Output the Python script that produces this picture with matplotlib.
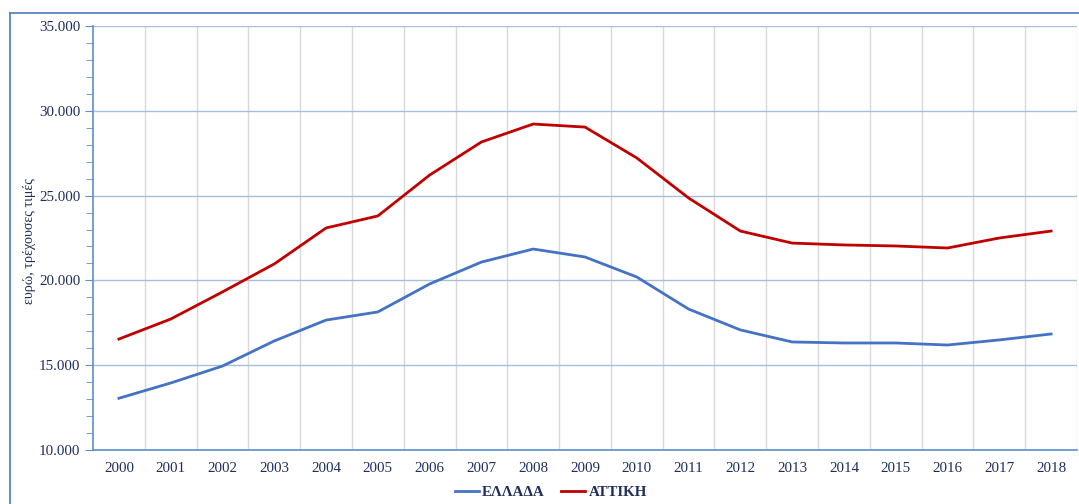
import matplotlib
matplotlib.use("Agg")
import matplotlib.pyplot as plt
from matplotlib.lines import Line2D
from matplotlib.ticker import MultipleLocator, FuncFormatter

years = [str(y) for y in range(2000, 2019)]
ellada = [13050, 13950, 14950, 16430, 17660, 18140, 19790, 21080, 21850, 21380,
          20200, 18310, 17080, 16370, 16310, 16310, 16190, 16490, 16840]
attiki = [16540, 17720, 19320, 20970, 23090, 23800, 26210, 28160, 29220, 29040,
          27220, 24860, 22910, 22200, 22090, 22030, 21910, 22500, 22910]
series_names = ["ΕΛΛΑΔΑ", "ΑΤΤΙΚΗ"]
ylabel = "ευρώ, τρέχουσες τιμές"

plt.rcParams['font.family'] = ['Liberation Serif', 'DejaVu Serif']
txt = '#1f2d5c'

fig = plt.figure(figsize=(10.79, 5.04), dpi=100)
ax = fig.add_axes([93/1079, 1-450/504, (1077-93)/1079, (450-26)/504])

x = list(range(len(years)))
ax.plot(x, ellada, color='#4472C4', lw=2.0, label=series_names[0])
ax.plot(x, attiki, color='#C00000', lw=2.0, label=series_names[1])

ax.set_xlim(-0.5, len(years)-0.5)
ax.set_ylim(10000, 35000)
ax.set_xticks(x)
ax.set_xticklabels(years)
ax.set_xticks([i+0.5 for i in x], minor=True)
ax.yaxis.set_major_locator(MultipleLocator(5000))
ax.yaxis.set_minor_locator(MultipleLocator(1000))
ax.yaxis.set_major_formatter(FuncFormatter(lambda v, p: f"{int(v):,}".replace(",", ".")))

ax.grid(which='major', axis='y', color='#a6bedf', lw=1.0)
ax.grid(which='minor', axis='x', color='#d9d9d9', lw=1.0)
ax.set_axisbelow(True)

ax.tick_params(axis='x', which='both', length=0, labelsize=10.8, labelcolor=txt, pad=9)
ax.tick_params(axis='y', which='major', length=6, color='#5b8fd0', labelsize=10.8, labelcolor=txt, pad=3)
ax.tick_params(axis='y', which='minor', length=5, color='#5b8fd0')

for s in ['top', 'right']:
    ax.spines[s].set_visible(False)
ax.spines['left'].set_color('#5b8fd0')
ax.spines['bottom'].set_color('#5b8fd0')
ax.spines['left'].set_linewidth(1.2)
ax.spines['bottom'].set_linewidth(1.2)

fig.text(30/1079, 1-241/504, ylabel, rotation=90, ha='center', va='center',
         fontsize=10.2, color=txt)

leg = fig.legend(loc='center', bbox_to_anchor=(551/1079, 1-492/504), ncol=2, frameon=False,
                 prop={'weight': 'bold', 'size': 10.8}, handlelength=1.6, columnspacing=1.1,
                 handletextpad=0.2)
for t in leg.get_texts():
    t.set_color(txt)

fig.add_artist(Line2D([10/1079, 1], [1-13/504, 1-13/504], color='#4a7ebb', lw=1.2, transform=fig.transFigure))
fig.add_artist(Line2D([10/1079, 10/1079], [1-13/504, 0], color='#4a7ebb', lw=1.2, transform=fig.transFigure))

fig.savefig('out.png', dpi=100)
